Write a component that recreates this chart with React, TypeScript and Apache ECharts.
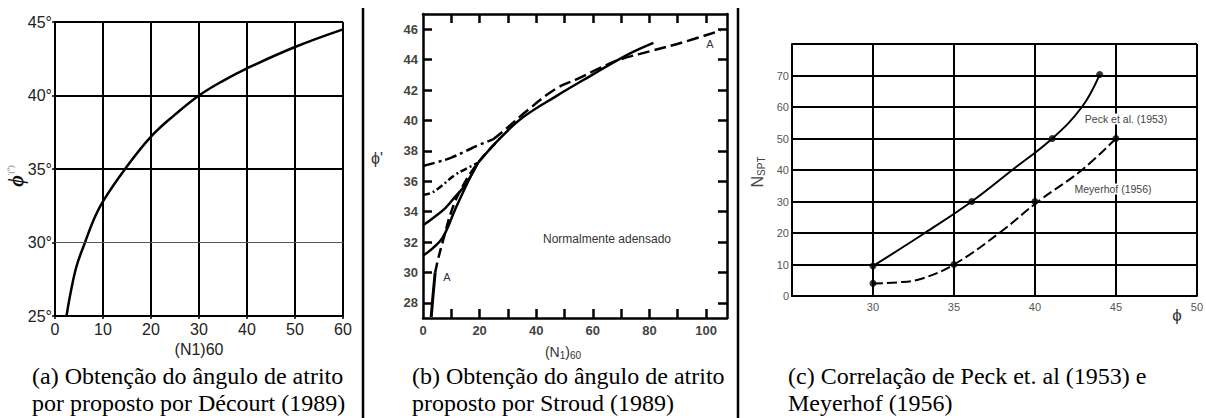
import React, { useEffect, useRef } from "react";
import * as echarts from "echarts";

// ---------- Panel (a) Décourt ----------
const decourtN = [2.4, 3.2, 4.5, 6.25, 8, 10, 14.6, 20, 25, 30, 35, 40, 50, 60];
const decourtPhi = [25, 26.5, 28.4, 30, 31.5, 32.8, 35, 37.2, 38.7, 40, 41, 41.85, 43.3, 44.5];

// ---------- Panel (b) Stroud ----------
const curveA_N = [2.9, 3.5, 4.3];
const curveA_Phi = [27.05, 28.4, 30];
const curveAd_N = [4.3, 5.5, 7.1, 10, 13.5, 19.4, 27.1];
const curveAd_Phi = [30, 31, 32.1, 34, 35.5, 37.2, 38.8];
const solidTop_N = [19.4, 27.1, 35.3, 47.1, 58.9, 72, 81.4];
const solidTop_Phi = [37.2, 38.8, 40.2, 41.6, 42.9, 44.3, 45.1];
const oc31_N = [0, 3.5, 7, 11.5, 16, 19.4];
const oc31_Phi = [31.1, 31.6, 32.3, 34.2, 36, 37.2];
const oc33_N = [0, 3, 7.7, 11, 14.7, 19.4];
const oc33_Phi = [33.1, 33.5, 34.2, 34.9, 35.7, 37.2];
const oc35_N = [0, 2.5, 5.3, 11.2, 15, 19.4];
const oc35_Phi = [35.1, 35.2, 35.5, 36.4, 36.8, 37.2];
const oc37_N = [0, 5, 10, 15.3, 20, 24.7];
const oc37_Phi = [37, 37.25, 37.55, 38, 38.4, 38.75];
const upperA_N = [24.7, 29.4, 36.5, 47.1, 54.2, 62, 69.5, 80.2, 92, 105];
const upperA_Phi = [38.75, 39.45, 40.6, 42.1, 42.7, 43.4, 44.0, 44.55, 45.15, 45.9];
const bXTicks = [10, 20, 30, 40, 50, 60, 70, 80, 90, 100];
const bXLabels = [0, 20, 40, 60, 80, 100];
const bYTicks = [28, 30, 32, 34, 36, 38, 40, 42, 44, 46];

// ---------- Panel (c) Peck / Meyerhof ----------
const peckPhi = [30, 33.2, 36.1, 38.6, 41.07, 42.9, 44];
const peckN = [9.5, 20, 30, 40, 50, 60, 70.3];
const peckPtsPhi = [30, 36.1, 41.07, 44];
const peckPtsN = [9.5, 30, 50, 70.3];
const meyPhi = [30, 31.5, 33, 35, 37.8, 40.2, 42.9, 45];
const meyN = [4, 4.3, 5.5, 10, 20, 30, 40, 50];
const meyPtsPhi = [30, 35, 40, 45];
const meyPtsN = [4, 10, 30, 50];

const zip = (xs: number[], ys: number[]) => xs.map((x, i) => [x, ys[i]]);

const SANS = "Liberation Sans, Arial, sans-serif";
const SERIF = "Liberation Serif, Times New Roman, serif";

export default function App() {
  const ref = useRef<HTMLDivElement>(null);
  useEffect(() => {
    if (!ref.current) return;
    const chart = echarts.init(ref.current, null, { renderer: "svg" });
    const blk = "#000";
    const lineB = (name: string, d: number[][], type: any, width = 2.5) => ({
      name, type: "line", xAxisIndex: 1, yAxisIndex: 1, data: d, smooth: 0.4,
      symbol: "none", lineStyle: { color: blk, width, type }, silent: true,
    });
    const option: any = {
      animation: false,
      textStyle: { fontFamily: SANS },
      grid: [
        { left: 55, top: 22, width: 288, height: 294 },
        { left: 423, top: 14, width: 304, height: 304 },
        { left: 792, top: 44, width: 407, height: 252 },
      ],
      xAxis: [
        {
          gridIndex: 0, type: "value", min: 0, max: 60, interval: 10,
          axisLine: { lineStyle: { color: blk, width: 2 } },
          axisTick: { show: true, length: 3, lineStyle: { color: blk, width: 1.5 } },
          axisLabel: { fontSize: 16, color: "#222", margin: 5, fontFamily: SANS },
          splitLine: { lineStyle: { color: blk, width: 2 } },
          name: "(N1)60", nameLocation: "middle", nameGap: 23,
          nameTextStyle: { fontSize: 16, color: "#222", fontFamily: SANS },
        },
        {
          gridIndex: 1, type: "value", min: 0, max: 107.4,
          axisLine: { onZero: false, lineStyle: { color: blk, width: 2.5 } },
          axisTick: { inside: true, length: 9, customValues: bXTicks, lineStyle: { color: blk, width: 2.5 } },
          axisLabel: { customValues: bXLabels, fontSize: 13, fontWeight: "bold", color: "#444", margin: 6 },
          splitLine: { show: false },
        },
        {
          gridIndex: 1, type: "value", min: 0, max: 107.4, position: "top",
          axisLine: { onZero: false, lineStyle: { color: blk, width: 2.5 } },
          axisTick: { inside: true, length: 9, customValues: bXTicks, lineStyle: { color: blk, width: 2.5 } },
          axisLabel: { show: false },
          splitLine: { show: false },
        },
        {
          gridIndex: 2, type: "value", min: 25, max: 50, interval: 5,
          axisLine: { onZero: false, lineStyle: { color: blk, width: 2 } },
          axisTick: { show: false },
          axisLabel: { showMinLabel: false, fontSize: 11, color: "#555", margin: 5 },
          splitLine: { lineStyle: { color: blk, width: 2 } },
        },
      ],
      yAxis: [
        {
          gridIndex: 0, type: "value", min: 25, max: 45, interval: 5,
          axisLine: { lineStyle: { color: blk, width: 2 } },
          axisTick: { show: true, length: 3, lineStyle: { color: blk, width: 1.5 } },
          axisLabel: { fontSize: 16, color: "#222", margin: 3, formatter: (v: number) => `${v}°` },
          splitLine: { lineStyle: { color: [blk, "transparent", blk, blk, blk], width: 2 } },
        },
        {
          gridIndex: 1, type: "value", min: 27, max: 47,
          axisLine: { onZero: false, lineStyle: { color: blk, width: 2.5 } },
          axisTick: { inside: true, length: 9, customValues: bYTicks, lineStyle: { color: blk, width: 2.5 } },
          axisLabel: { customValues: bYTicks, fontSize: 13, fontWeight: "bold", color: "#444", margin: 5 },
          splitLine: { show: false },
        },
        {
          gridIndex: 1, type: "value", min: 27, max: 47, position: "right",
          axisLine: { onZero: false, lineStyle: { color: blk, width: 2.5 } },
          axisTick: { inside: true, length: 9, customValues: bYTicks, lineStyle: { color: blk, width: 2.5 } },
          axisLabel: { show: false },
          splitLine: { show: false },
        },
        {
          gridIndex: 2, type: "value", min: 0, max: 80, interval: 10,
          axisLine: { onZero: false, lineStyle: { color: blk, width: 2 } },
          axisTick: { show: false },
          axisLabel: { showMaxLabel: false, fontSize: 11, color: "#555", margin: 3 },
          splitLine: { lineStyle: { color: blk, width: 2 } },
        },
      ],
      series: [
        {
          name: "Décourt", type: "line", xAxisIndex: 0, yAxisIndex: 0,
          data: zip(decourtN, decourtPhi), smooth: 0.4, symbol: "none",
          lineStyle: { color: blk, width: 2.5 }, silent: true,
          markLine: {
            silent: true, symbol: "none", label: { show: false },
            lineStyle: { color: "#555", width: 1, type: "solid" },
            data: [{ yAxis: 30 }],
          },
        },
        lineB("A solid", zip(curveA_N, curveA_Phi), "solid", 3),
        lineB("A", zip(curveAd_N, curveAd_Phi), [10, 5]),
        lineB("Solid top", zip(solidTop_N, solidTop_Phi), "solid"),
        lineB("OC31", zip(oc31_N, oc31_Phi), "solid"),
        lineB("OC33", zip(oc33_N, oc33_Phi), "solid"),
        lineB("OC35", zip(oc35_N, oc35_Phi), [7, 3, 2, 3]),
        lineB("OC37", zip(oc37_N, oc37_Phi), [12, 4, 3, 4]),
        lineB("Upper A", zip(upperA_N, upperA_Phi), [12, 5]),
        {
          name: "Peck", type: "line", xAxisIndex: 3, yAxisIndex: 3,
          data: zip(peckPhi, peckN), smooth: 0.4, symbol: "none",
          lineStyle: { color: blk, width: 2 }, silent: true,
        },
        {
          name: "Meyerhof", type: "line", xAxisIndex: 3, yAxisIndex: 3,
          data: zip(meyPhi, meyN), smooth: 0.4, symbol: "none",
          lineStyle: { color: blk, width: 2, type: [10, 4] }, silent: true,
        },
        {
          name: "Peck pts", type: "scatter", xAxisIndex: 3, yAxisIndex: 3,
          data: zip(peckPtsPhi, peckPtsN), symbolSize: 7, itemStyle: { color: blk }, silent: true,
        },
        {
          name: "Meyerhof pts", type: "scatter", xAxisIndex: 3, yAxisIndex: 3,
          data: zip(meyPtsPhi, meyPtsN), symbolSize: 7, itemStyle: { color: blk }, silent: true,
        },
      ],
      graphic: [
        { type: "line", shape: { x1: 363, y1: 8, x2: 363, y2: 418 }, style: { stroke: blk, lineWidth: 2.5 } },
        { type: "line", shape: { x1: 738, y1: 8, x2: 738, y2: 418 }, style: { stroke: blk, lineWidth: 2.5 } },
        {
          type: "text", x: 16, y: 176, rotation: Math.PI / 2,
          style: {
            text: "{p|ϕ}{s|'(°)}", align: "center", verticalAlign: "middle",
            rich: {
              p: { fontSize: 20, fontWeight: "bold", fontStyle: "italic", fontFamily: SERIF, fill: "#111" },
              s: { fontSize: 8, fill: "#777", fontFamily: SANS, verticalAlign: "top" },
            },
          },
        },
        { type: "text", x: 377, y: 158, style: { text: "ϕ'", fontSize: 16, fill: "#333", fontFamily: SANS, align: "center", verticalAlign: "middle" } },
        {
          type: "text", x: 563, y: 352,
          style: {
            text: "{n|(N}{s|1}{n|)}{s|60}", align: "center", verticalAlign: "middle",
            rich: { n: { fontSize: 14, fill: "#333", fontFamily: SANS }, s: { fontSize: 10, fill: "#333", fontFamily: SANS, padding: [6, 0, 0, 0] } },
          },
        },
        { type: "text", x: 607, y: 239, style: { text: "Normalmente adensado", fontSize: 12, fill: "#333", fontFamily: SANS, align: "center", verticalAlign: "middle" } },
        { type: "text", x: 447, y: 277, style: { text: "A", fontSize: 11, fill: "#333", fontFamily: SANS, align: "center", verticalAlign: "middle" } },
        { type: "text", x: 710, y: 44, style: { text: "A", fontSize: 11, fill: "#333", fontFamily: SANS, align: "center", verticalAlign: "middle" } },
        {
          type: "text", x: 757, y: 172, rotation: Math.PI / 2,
          style: {
            text: "{n|N}{s|SPT}", align: "center", verticalAlign: "middle",
            rich: { n: { fontSize: 16, fill: "#444", fontFamily: SANS }, s: { fontSize: 10, fill: "#444", fontFamily: SANS, padding: [8, 0, 0, 0] } },
          },
        },
        { type: "text", x: 1177, y: 315, style: { text: "ϕ", fontSize: 17, fill: "#333", fontFamily: SANS, align: "center", verticalAlign: "middle" } },
        { type: "text", x: 1126, y: 119, z: 10, style: { text: "Peck et al. (1953)", fontSize: 10.5, fill: "#444", fontFamily: SANS, align: "center", verticalAlign: "middle", backgroundColor: "#fff", padding: [0, 1] } },
        { type: "text", x: 1113, y: 189, z: 10, style: { text: "Meyerhof (1956)", fontSize: 10.5, fill: "#444", fontFamily: SANS, align: "center", verticalAlign: "middle", backgroundColor: "#fff", padding: [0, 1] } },
        { type: "text", x: 32, y: 376, style: { text: "(a) Obtenção do ângulo de atrito", fontSize: 24, fill: "#000", fontFamily: SERIF, verticalAlign: "middle" } },
        { type: "text", x: 32, y: 403, style: { text: "por proposto por Décourt (1989)", fontSize: 24, fill: "#000", fontFamily: SERIF, verticalAlign: "middle" } },
        { type: "text", x: 412, y: 376, style: { text: "(b) Obtenção do ângulo de atrito", fontSize: 24, fill: "#000", fontFamily: SERIF, verticalAlign: "middle" } },
        { type: "text", x: 412, y: 403, style: { text: "proposto por Stroud (1989)", fontSize: 24, fill: "#000", fontFamily: SERIF, verticalAlign: "middle" } },
        { type: "text", x: 788, y: 376, style: { text: "(c) Correlação de Peck et. al (1953) e", fontSize: 24, fill: "#000", fontFamily: SERIF, verticalAlign: "middle" } },
        { type: "text", x: 788, y: 403, style: { text: "Meyerhof (1956)", fontSize: 24, fill: "#000", fontFamily: SERIF, verticalAlign: "middle" } },
      ],
    };
    chart.setOption(option);
    return () => chart.dispose();
  }, []);
  return (
    <div
      ref={ref}
      style={{ position: "absolute", left: 0, top: 0, width: 1206, height: 418, background: "#fff" }}
    />
  );
}
